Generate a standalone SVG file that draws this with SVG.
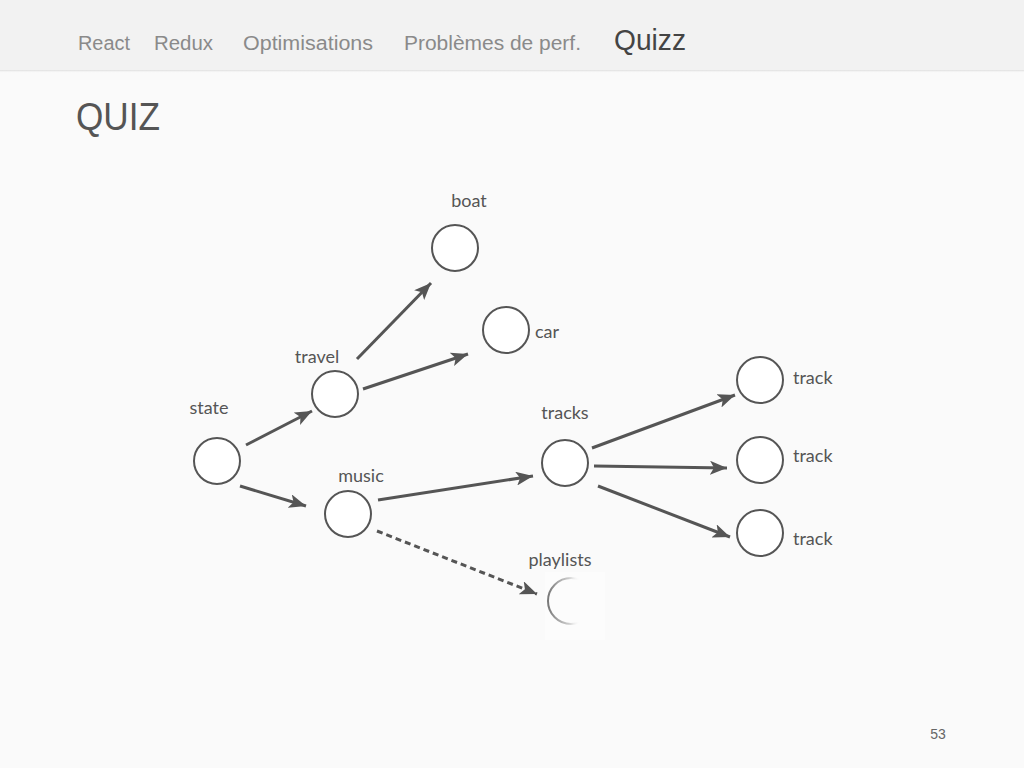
<svg xmlns="http://www.w3.org/2000/svg" width="1024" height="768" viewBox="0 0 1024 768">
<defs>
<marker id="ah" markerUnits="userSpaceOnUse" markerWidth="18" markerHeight="14" refX="17" refY="7" orient="auto">
<path d="M0,0 L17,7 L0,14 L4,7 Z" fill="#555"/>
</marker>
<linearGradient id="fade" x1="0" y1="0" x2="1" y2="0">
<stop offset="0" stop-color="#777"/>
<stop offset="0.45" stop-color="#aaa" stop-opacity="0.6"/>
<stop offset="0.7" stop-color="#fff" stop-opacity="0"/>
</linearGradient>
<linearGradient id="hdrsh" x1="0" y1="0" x2="0" y2="1">
<stop offset="0" stop-color="#ddd"/>
<stop offset="1" stop-color="#fafafa" stop-opacity="0"/>
</linearGradient>
</defs>
<style>
.nav{font-family:"Liberation Sans",Arial,sans-serif;font-size:20px;fill:#8a8a8a}
.lbl{font-family:Lato,"Open Sans",sans-serif;font-size:18px;fill:#555}
.node{fill:#fff;stroke:#555;stroke-width:2}
.edge{stroke:#555;stroke-width:3;fill:none;marker-end:url(#ah)}
.dash{stroke-dasharray:6 4}
</style>
<rect width="1024" height="768" fill="#fafafa"/>
<rect width="1024" height="70" fill="#f2f2f2"/>
<rect y="70" width="1024" height="3" fill="url(#hdrsh)"/>
<g id="header">
<text class="nav" x="78" y="50" textLength="52" lengthAdjust="spacingAndGlyphs">React</text>
<text class="nav" x="154" y="50" textLength="59" lengthAdjust="spacingAndGlyphs">Redux</text>
<text class="nav" x="243" y="50" textLength="130" lengthAdjust="spacingAndGlyphs">Optimisations</text>
<text class="nav" x="404" y="50" textLength="177" lengthAdjust="spacingAndGlyphs">Problèmes de perf.</text>
<text x="614" y="50" font-family="Liberation Sans,Arial,sans-serif" font-size="29" fill="#444" textLength="72" lengthAdjust="spacingAndGlyphs">Quizz</text>
</g>
<text id="title" x="76" y="130" font-family="Liberation Sans,Arial,sans-serif" font-size="38" fill="#555" textLength="84" lengthAdjust="spacingAndGlyphs">QUIZ</text>
<g id="connectors">
<line class="edge" x1="246" y1="445" x2="312" y2="411"/>
<line class="edge" x1="240" y1="486" x2="306" y2="506"/>
<line class="edge" x1="357" y1="359" x2="431" y2="283"/>
<line class="edge" x1="363" y1="389" x2="468" y2="354"/>
<line class="edge" x1="378" y1="500" x2="533" y2="476"/>
<line class="edge dash" x1="377" y1="531" x2="537" y2="594"/>
<line class="edge" x1="592" y1="448" x2="735" y2="395"/>
<line class="edge" x1="594" y1="466" x2="727" y2="468"/>
<line class="edge" x1="598" y1="486" x2="730" y2="537"/>
</g>
<g id="n-state"><circle class="node" cx="217" cy="461" r="23"/><text class="lbl" x="209" y="414" text-anchor="middle">state</text></g>
<g id="n-travel"><circle class="node" cx="335" cy="394" r="23"/><text class="lbl" x="317" y="363" text-anchor="middle">travel</text></g>
<g id="n-music"><circle class="node" cx="348" cy="514" r="23"/><text class="lbl" x="361" y="482" text-anchor="middle">music</text></g>
<g id="n-boat"><circle class="node" cx="455" cy="248" r="23"/><text class="lbl" x="469" y="207" text-anchor="middle">boat</text></g>
<g id="n-car"><circle class="node" cx="506" cy="330" r="23"/><text class="lbl" x="535" y="338">car</text></g>
<g id="n-tracks"><circle class="node" cx="565" cy="463" r="23"/><text class="lbl" x="565" y="419" text-anchor="middle">tracks</text></g>
<g id="n-track1"><circle class="node" cx="760" cy="380" r="23"/><text class="lbl" x="793" y="384">track</text></g>
<g id="n-track2"><circle class="node" cx="760" cy="460" r="23"/><text class="lbl" x="793" y="462">track</text></g>
<g id="n-track3"><circle class="node" cx="760" cy="533" r="23"/><text class="lbl" x="793" y="545">track</text></g>
<g id="n-playlists">
<rect x="545" y="572" width="60" height="68" fill="#fff" opacity="0.45"/>
<circle cx="571" cy="601" r="23" fill="none" stroke="url(#fade)" stroke-width="2"/>
<text class="lbl" x="560" y="566" text-anchor="middle">playlists</text>
</g>
<text id="pagenum" x="938" y="739" text-anchor="middle" font-family="Liberation Sans,Arial,sans-serif" font-size="14" fill="#666">53</text>
</svg>
